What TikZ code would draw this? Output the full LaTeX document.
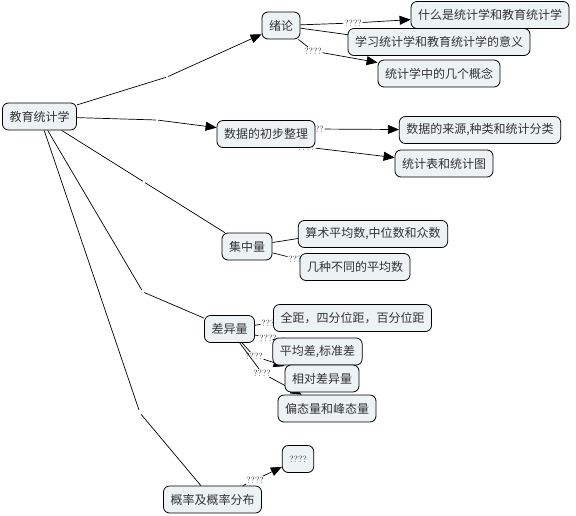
\documentclass[tikz,border=0pt]{standalone}
\usepackage{fontspec}
\usepackage{xcolor}
\usepackage{tikz}
\usetikzlibrary{arrows.meta,backgrounds}
\newfontfamily\cjk{Noto Sans CJK SC}
\definecolor{boxfill}{HTML}{EDF2F5}
\definecolor{ink}{HTML}{333333}

\begin{document}
\begin{tikzpicture}[x=1pt,y=-1pt,line cap=round,line join=round,
  concept/.style={draw=black,fill=boxfill,rounded corners=6pt,line width=0.8pt,
    minimum height=27pt,inner xsep=7pt,text=ink,font=\cjk\fontsize{12}{12}\selectfont},
  lbl/.style={fill=white,inner sep=0.6pt,text=ink,font=\fontsize{9}{9}\selectfont},
  gap/.style={inner sep=0pt,minimum width=2pt,minimum height=6pt},
  link/.style={black,line width=0.7pt},
  tip/.style={link,-{Triangle[length=11pt,width=9pt]}}]
  \useasboundingbox (0,0) rectangle (576,515);
  % concepts
  \node[concept] (root) at (39.5,116.5) {教育统计学};
  \node[concept] (intro) at (281,25.5) {绪论};
  \node[concept] (what) at (490,15) {什么是统计学和教育统计学};
  \node[concept] (meaning) at (439,42) {学习统计学和教育统计学的意义};
  \node[concept] (terms) at (439,73.5) {统计学中的几个概念};
  \node[concept] (prep) at (266,134) {数据的初步整理};
  \node[concept] (source) at (480,130) {数据的来源,种类和统计分类};
  \node[concept] (tables) at (444,163.5) {统计表和统计图};
  \node[concept] (central) at (247,246.5) {集中量};
  \node[concept] (mean) at (373,234) {算术平均数,中位数和众数};
  \node[concept] (avgs) at (355,267) {几种不同的平均数};
  \node[concept] (spread) at (229.5,329) {差异量};
  \node[concept] (range) at (352.5,318) {全距，四分位距，百分位距};
  \node[concept] (sd) at (317.5,351.5) {平均差,标准差};
  \node[concept] (rel) at (322,378.5) {相对差异量};
  \node[concept] (skew) at (327,408.5) {偏态量和峰态量};
  \node[concept] (prob) at (212.5,499.5) {概率及概率分布};
  \node[concept] (unk) at (298,459) {\normalfont\fontsize{9}{9}\selectfont ????};
  % links
  \begin{scope}[on background layer]
    \node[gap] (m1) at (167,77) {};
    \node[gap] (m2) at (157,120) {};
    \node[gap] (m3) at (144,182) {};
    \node[gap] (m4) at (143,292) {};
    \node[gap] (m5) at (140,413) {};
    \draw[link] (root) -- (m1);
    \draw[tip] (m1) -- (intro);
    \draw[link] (root) -- (m2);
    \draw[tip] (m2) -- (prep);
    \draw[link] (root) -- (m3);
    \draw[link] (m3) -- (central);
    \draw[link] (root) -- (m4);
    \draw[link] (m4) -- (spread);
    \draw[link] (root) -- (m5);
    \draw[link] (m5) -- (prob);
    \node[lbl] (l1) at (353,23) {????};
    \coordinate (l2) at (372,38);
    \node[lbl] (l3) at (313,51) {????};
    \node[lbl] (l4) at (315,129) {????};
    \node[lbl] (l5) at (306,147) {????};
    \coordinate (l6) at (314,236);
    \node[lbl] (l7) at (297,259) {????};
    \node[lbl] (l8) at (270,323) {????};
    \node[lbl] (l9) at (268,338) {????};
    \node[lbl] (l10) at (254,356) {????};
    \node[lbl] (l11) at (262,373) {????};
    \node[lbl] (l12) at (255,480) {????};
    \draw[link] (intro) -- (l1);
    \draw[tip] (l1) -- (what);
    \draw[link] (intro) -- (l2);
    \draw[tip] (l2) -- (meaning);
    \draw[link] (intro) -- (l3);
    \draw[tip] (l3) -- (terms);
    \draw[link] (prep) -- (l4);
    \draw[tip] (l4) -- (source);
    \draw[link] (prep) -- (l5);
    \draw[tip] (l5) -- (tables);
    \draw[link] (central) -- (l6);
    \draw[tip] (l6) -- (mean);
    \draw[link] (central) -- (l7);
    \draw[tip] (l7) -- (avgs);
    \draw[link] (spread) -- (l8);
    \draw[tip] (l8) -- (range);
    \draw[link] (spread) -- (l9);
    \draw[tip] (l9) -- (sd);
    \draw[link] (spread) -- (l10);
    \draw[tip] (l10) -- (rel);
    \draw[link] (spread) -- (l11);
    \draw[tip] (l11) -- (skew);
    \draw[link] (prob) -- (l12);
    \draw[tip] (l12) -- (unk);
  \end{scope}
\end{tikzpicture}
\end{document}
